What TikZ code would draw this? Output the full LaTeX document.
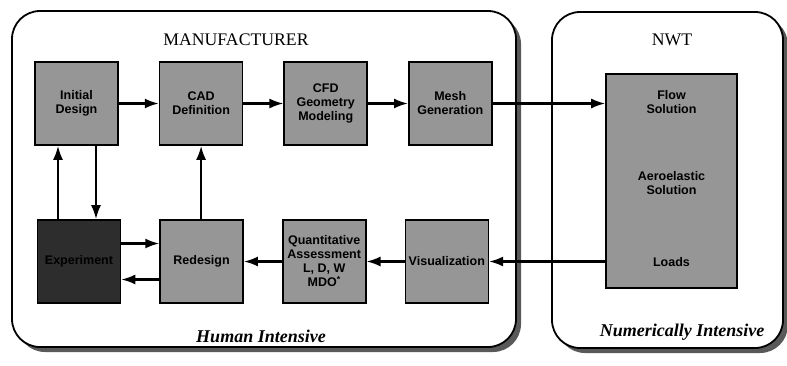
\documentclass[tikz,border=0pt]{standalone}
\usepackage{fontspec}
\setmainfont{Liberation Serif}
\newfontfamily\boxfont{Liberation Sans}
\definecolor{mygray}{RGB}{150,150,150}
\definecolor{mydark}{RGB}{45,45,45}
\usetikzlibrary{positioning,chains,shadows,arrows.meta}

\begin{document}
\begin{tikzpicture}[line width=2.1pt,
    every node/.style={align=center},
    stepnode/.style={draw,line width=1.6pt,fill=mygray,minimum width=83pt,minimum height=83pt,
        inner sep=1pt,font=\boxfont\bfseries\fontsize{12.5}{14}\selectfont},
    darknode/.style={stepnode,fill=mydark},
    panel/.style={draw,fill=white,rounded corners=28pt,line width=1.8pt,
        drop shadow={shadow xshift=5pt,shadow yshift=-5pt,fill=black!65,opacity=1}},
    title/.style={font=\fontsize{17.7}{20}\selectfont},
    footer/.style={font=\bfseries\itshape\fontsize{18}{21}\selectfont},
    flowarrow/.style={-{Latex[length=14pt,width=10pt]}}
    ]
    \useasboundingbox (0,0) rectangle (787pt,-365pt);

    % the two frames
    \node[panel,minimum width=504pt,minimum height=336pt] (manuf) at (264pt,-179pt) {};
    \node[panel,minimum width=231pt,minimum height=336pt] (nwt) at (667.5pt,-180pt) {};
    \node[title] (manuftitle) at (236pt,-40pt) {MANUFACTURER};
    \node[title] (nwttitle) at (672pt,-40pt) {NWT};
    \node[footer] (human) at (261pt,-336pt) {Human Intensive};
    \node[footer] (numeric) at (682pt,-332pt) {Numerically Intensive};

    % the upper row
    \begin{scope}[start chain=going right,node distance=40pt]
    \node[stepnode,on chain] (init) at (76.5pt,-103.5pt) {Initial\\Design};
    \node[stepnode,on chain] (cad) {CAD\\Definition};
    \node[stepnode,on chain] (cfd) {CFD\\Geometry\\Modeling};
    \node[stepnode,on chain] (mesh) {Mesh\\Generation};
    \end{scope}

    % the lower row
    \begin{scope}[start chain=going right,node distance=38pt]
    \node[darknode,on chain] (exper) at (79pt,-261.5pt) {Experiment};
    \node[stepnode,on chain] (redes) {Redesign};
    \node[stepnode,on chain] (quant) {Quantitative\\Assessment\\L, D, W\\MDO\textsuperscript{*}};
    \node[stepnode,on chain] (visual) {Visualization};
    \end{scope}

    % the solver
    \node[stepnode,minimum width=131pt,minimum height=214pt] (flow) at (671.5pt,-181pt) {};
    \node[font=\boxfont\bfseries\fontsize{12.5}{14}\selectfont] (flowsol) at (671.5pt,-102pt) {Flow\\Solution};
    \node[font=\boxfont\bfseries\fontsize{12.5}{14}\selectfont] (aerosol) at (671.5pt,-183pt) {Aeroelastic\\Solution};
    \node[font=\boxfont\bfseries\fontsize{12.5}{14}\selectfont] (loads) at (671.5pt,-262pt) {Loads};

    % the edges
    \draw[flowarrow] (init) -- (cad);
    \draw[flowarrow] (cad) -- (cfd);
    \draw[flowarrow] (cfd) -- (mesh);
    \draw[flowarrow] (mesh.east) -- (mesh.east -| flow.west);
    \draw[flowarrow] (visual.east -| flow.west) -- (visual.east);
    \draw[flowarrow] (visual) -- (quant);
    \draw[flowarrow] (quant) -- (redes);
    \draw[flowarrow] ([yshift=18pt]exper.east) -- ([yshift=18pt]exper.east -| redes.west);
    \draw[flowarrow] ([yshift=-18pt]redes.west) -- ([yshift=-18pt]redes.west -| exper.east);
    \draw[flowarrow] (redes.north -| cad.south) -- (cad.south);
    \draw[flowarrow] ([xshift=-21pt]exper.north) -- ([xshift=-21pt]exper.north |- init.south);
    \draw[flowarrow] ([xshift=19.5pt]init.south) -- ([xshift=19.5pt]init.south |- exper.north);
\end{tikzpicture}
\end{document}
